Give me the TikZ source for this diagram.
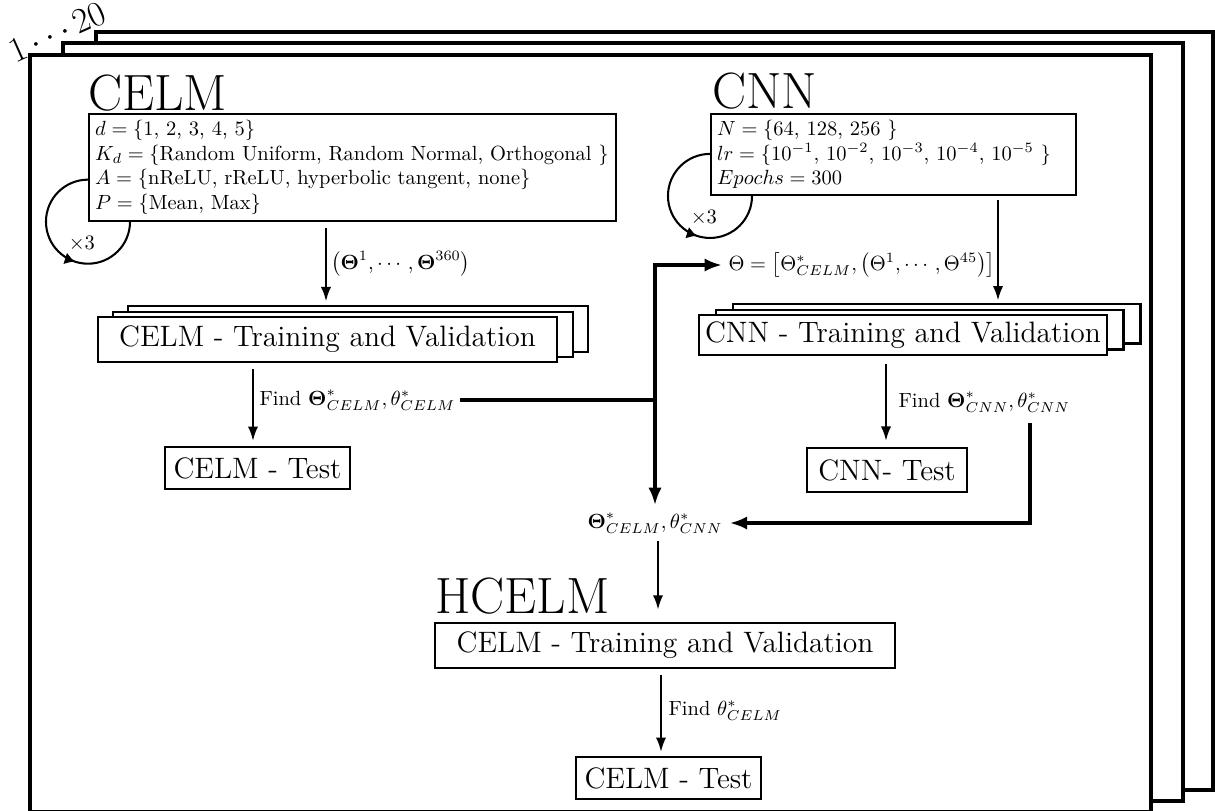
\documentclass[tikz,border=0pt]{standalone}
\usepackage{amsmath}
\usetikzlibrary{arrows.meta,decorations.markings}
\tikzset{
  framebox/.style={draw, fill=white},
  parbox/.style={draw, line width=1pt, fill=white, align=left, inner sep=3pt, anchor=north west},
  titletext/.style={font=\Huge, inner sep=0pt, anchor=base west},
  trainbox/.style={draw, line width=1pt, fill=white, font=\Large, minimum width=224pt, minimum height=22pt, inner sep=3pt},
  testbox/.style={draw, line width=1pt, fill=white, font=\Large, minimum height=20.5pt, inner sep=3pt},
  arr/.style={line width=1pt, -{Latex[length=7pt,width=5pt]}},
  bigarr/.style={line width=1.8pt, -{Latex[length=8.5pt,width=6.5pt]}},
  bigline/.style={line width=1.8pt},
  looparr/.style={line width=1pt, postaction={decorate},
    decoration={markings, mark=at position 0.6 with {\arrow{Latex[length=5pt,width=6pt]}}}},
  lbl/.style={inner sep=2pt}
}
\begin{document}
\begin{tikzpicture}[x=0.4878pt, y=-0.4878pt]
\useasboundingbox (0,0) rectangle (1215,810);

% stacked frames
\draw[framebox, line width=1.6pt] (96,32) rectangle (1213,790);
\draw[framebox, line width=1.6pt] (63,43) rectangle (1183,801);
\draw[framebox, line width=2pt] (30,55) rectangle (1151,812);
\node[rotate=24, font=\LARGE, inner sep=0pt] (reps) at (57,32) {$1\cdots20$};

% CELM block
\node[titletext] (celmt) at (88,110) {CELM};
\node[parbox, text width=251pt] (celmp) at (88,113) {%
$d = \{$1, 2, 3, 4, 5$\}$\\
$K_d = \{$Random Uniform, Random Normal, Orthogonal $\}$\\
$A = \{$nReLU, rReLU, hyperbolic tangent, none$\}$\\
$P = \{$Mean, Max$\}$};
\draw[looparr] (celmp.south west) ++(0pt,20.5pt) arc[start angle=90, end angle=360, radius=20.5pt];
\node (celmx) at ([xshift=-3pt,yshift=-10.7pt]celmp.south west) {$\times3$};

% CNN block
\node[titletext] (cnnt) at (712,108) {CNN};
\node[parbox, text width=172pt] (cnnp) at (710,113) {%
$N = \{$64, 128, 256 $\}$\\
$lr = \{10^{-1}$, $10^{-2}$, $10^{-3}$, $10^{-4}$, $10^{-5}$ $\}$\\
$Epochs = 300$};
\draw[looparr] (cnnp.south west) ++(0pt,20.5pt) arc[start angle=90, end angle=360, radius=20.5pt];
\node (cnnx) at ([xshift=-3pt,yshift=-10.7pt]cnnp.south west) {$\times3$};

% CELM training stack
\node[trainbox] (celmtr3) at (358,329) {};
\node[trainbox] (celmtr2) at (343,334.5) {};
\node[trainbox] (celmtr) at (327.5,339.5) {CELM - Training and Validation};
\coordinate (xa) at (326,0);
\draw[arr, shorten <=3pt, shorten >=2pt] (celmp.south -| xa) -- (celmtr3.north -| xa)
  node[midway, right, lbl] (p360) {$\left(\boldsymbol{\Theta}^1, \cdots, \boldsymbol{\Theta}^{360}\right)$};

\node[testbox, minimum width=90pt] (celmtest) at (257.5,468) {CELM - Test};
\coordinate (xb) at (253,0);
\draw[arr, shorten <=3pt, shorten >=2.5pt] (celmtr.south -| xb) -- (celmtest.north -| xb);
\node[lbl, anchor=west] (findcelm) at (255,400) {Find $\boldsymbol{\Theta}^*_{CELM}, \theta^*_{CELM}$};

% CNN training stack
\node[trainbox, minimum width=199pt, minimum height=19.5pt] (cnntr3) at (936.5,323.5) {};
\node[trainbox, minimum width=199pt, minimum height=19.5pt] (cnntr2) at (919.5,329.5) {};
\node[trainbox, minimum width=199pt, minimum height=19.5pt] (cnntr) at (903,335) {CNN - Training and Validation};
\coordinate (xc) at (998,0);
\draw[arr, shorten <=2pt, shorten >=1pt] (cnnp.south -| xc) -- (cnntr3.north -| xc);

\node[testbox, minimum width=78pt, minimum height=21.5pt] (cnntest) at (887,470) {CNN- Test};
\coordinate (xd) at (886,0);
\draw[arr, shorten <=4pt, shorten >=3pt] (cnntr.south -| xd) -- (cnntest.north -| xd);
\node[lbl, anchor=west] (findcnn) at (894,402) {Find $\boldsymbol{\Theta}^*_{CNN}, \theta^*_{CNN}$};

% combination
\node[anchor=west, inner sep=3pt] (thetaall) at (722,265)
  {$\Theta = \left[\Theta^*_{CELM}, \left(\Theta^1, \cdots, \Theta^{45}\right)\right]$};
\node (comb) at (655,523) {$\boldsymbol{\Theta}^*_{CELM}, \theta^*_{CNN}$};
\coordinate (xj) at (655,0);
\draw[bigline] (findcelm.east) -- (findcelm.east -| xj);
\draw[bigarr] (findcelm.east -| xj) |- (thetaall.west);
\draw[bigarr] (findcelm.east -| xj) -- (comb.north -| xj);
\coordinate (xe) at (1030,0);
\draw[bigarr, shorten <=3pt] (findcnn.south -| xe) |- (comb.east);

% HCELM block
\node[titletext] (hcelmt) at (435,613) {HCELM};
\node[trainbox] (hcelmtr) at (665,645.5) {CELM - Training and Validation};
\coordinate (xf) at (658,0);
\draw[arr, shorten >=6pt] (comb.south -| xf) -- (hcelmtr.north -| xf);
\node[testbox, minimum width=90pt] (hcelmtest) at (668.5,778) {CELM - Test};
\coordinate (xg) at (661,0);
\draw[arr, shorten <=3pt, shorten >=2pt] (hcelmtr.south -| xg) -- (hcelmtest.north -| xg);
\node[lbl, anchor=west] (findh) at (664,711) {Find $\theta^*_{CELM}$};
\end{tikzpicture}
\end{document}
